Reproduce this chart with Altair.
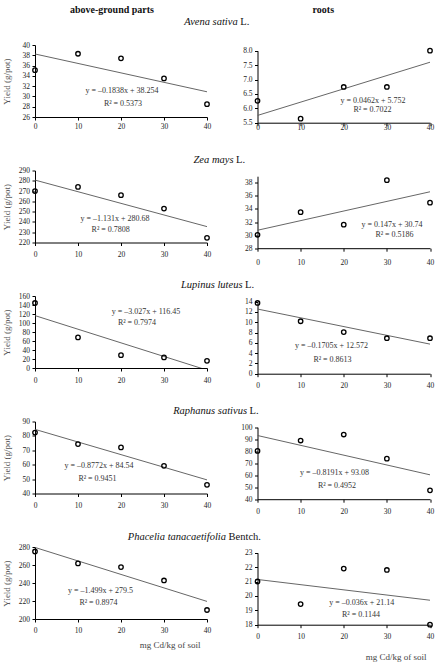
import altair as alt
import pandas as pd

# ---------------- data ----------------
doses = [0, 10, 20, 30, 40]

species = ["Avena sativa", "Zea mays", "Lupinus luteus", "Raphanus sativus", "Phacelia tanacaetifolia"]
authors = ["L.", "L.", "L.", "L.", "Bentch."]

above_vals = [
    [35.1, 38.3, 37.4, 33.5, 28.5],
    [270.0, 274.0, 266.0, 253.0, 224.5],
    [144.5, 68.0, 28.5, 23.5, 16.0],
    [82.3, 74.3, 72.0, 59.2, 46.0],
    [275.0, 261.8, 257.7, 242.8, 210.0],
]
root_vals = [
    [6.26, 5.64, 6.74, 6.74, 8.0],
    [30.05, 33.5, 31.6, 38.4, 34.95],
    [13.75, 10.2, 8.1, 6.9, 6.9],
    [80.2, 88.9, 93.9, 73.8, 47.4],
    [21.0, 19.43, 21.9, 21.8, 18.0],
]
above_slope = [-0.1838, -1.131, -3.027, -0.8772, -1.499]
above_int = [38.254, 280.68, 116.45, 84.54, 279.5]
root_slope = [0.0462, 0.147, -0.1705, -0.8191, -0.036]
root_int = [5.752, 30.74, 12.572, 93.08, 21.14]
above_eq = ["y = –0.1838x + 38.254", "y = –1.131x + 280.68", "y = –3.027x + 116.45",
            "y = –0.8772x + 84.54", "y = –1.499x + 279.5"]
root_eq = ["y = 0.0462x + 5.752", "y = 0.147x + 30.74", "y = –0.1705x + 12.572",
           "y = –0.8191x + 93.08", "y = –0.036x + 21.14"]
above_r2 = ["R² = 0.5373", "R² = 0.7808", "R² = 0.7974", "R² = 0.9451", "R² = 0.8974"]
root_r2 = ["R² = 0.7022", "R² = 0.5186", "R² = 0.8613", "R² = 0.4952", "R² = 0.1144"]
above_ticks = [[26, 28, 30, 32, 34, 36, 38, 40],
               [220, 230, 240, 250, 260, 270, 280, 290],
               [0, 20, 40, 60, 80, 100, 120, 140, 160],
               [40, 50, 60, 70, 80, 90],
               [200, 220, 240, 260, 280]]
root_ticks = [[5.5, 6.0, 6.5, 7.0, 7.5, 8.0],
              [28, 30, 32, 34, 36, 38],
              [0, 2, 4, 6, 8, 10, 12, 14],
              [40, 50, 60, 70, 80, 90, 100],
              [18, 19, 20, 21, 22, 23]]
above_domain = [[26, 40], [220, 290], [0, 160], [40, 90], [200, 280]]
root_domain = [[5.5, 8.0], [28, 39], [0, 14], [40, 100], [18, 23]]
col_headers = ["above-ground parts", "roots"]
ytitle = "Yield (g/pot)"
xtitle = "mg Cd/kg of soil"

# ---------------- styles / layout ----------------
FONT = "Liberation Serif"
LW, RW, H = 172, 172.5, 72
ROFF = 5.7            # right panels sit a little lower than the left ones
RH = H + ROFF
PITCH = 125.2
above_fmt = ["d", "d", "d", "d", "d"]
root_fmt = [".1f", "d", "d", "d", "d"]
left_xpad = [2.5, 5.2, 5.8, 5.2, 4.8]
right_xpad = [-2.5, 7.2, 5.2, 4.9, 5.2]
above_eq_xy = [(87, 46), (80, 48), (111, 16), (64, 44), (65.5, 44)]
above_r2_xy = [(88, 59), (75.7, 59.7), (102, 27.3), (62.5, 57.3), (63.5, 55.7)]
root_eq_xy = [(115.5, 50), (134.5, 48.5), (74, 44.6), (77, 45.4), (104.3, 50.2)]
root_r2_xy = [(115, 59), (137, 58.5), (75, 58), (79.5, 58.7), (103.5, 62.5)]
title_end = [(202.7, -23.3), (198.5, -10.5), (207.5, -10.7), (212, -10.4), (191, -10)]

ONE = pd.DataFrame({"k": [0]})


def txt(s, x, y, size=8, style="normal", weight="normal", align="center", color="#333"):
    return alt.Chart(ONE).mark_text(
        text=s, fontSize=size, font=FONT, fontStyle=style, fontWeight=weight,
        align=align, baseline="middle", color=color
    ).encode(x=alt.value(x), y=alt.value(y))


def panel(vals, m, b, ticks, dom, fmt, eq, r2, eq_xy, r2_xy, w, h, yrange, xpad, left, extras):
    xenc = alt.X("dose:Q", scale=alt.Scale(domain=[0, 40], nice=False, zero=False),
                 axis=alt.Axis(values=doses, title=None, labelPadding=xpad, format="d",
                               labelFlush=False, labelOverlap=False))
    if left:
        yaxis = alt.Axis(values=ticks, format=fmt, title=ytitle, titleFont=FONT,
                         titleFontSize=9, titleFontWeight="normal", titleColor="#555",
                         titlePadding=3.5, minExtent=20, maxExtent=20, labelPadding=2.5,
                         labelFlush=False, labelOverlap=False)
    else:
        yaxis = alt.Axis(values=ticks, format=fmt, title=None, labelPadding=2.5,
                         labelFlush=False, labelOverlap=False)
    yenc = alt.Y("val:Q", scale=alt.Scale(domain=dom, nice=False, zero=False, range=yrange),
                 axis=yaxis)

    pts = pd.DataFrame({"dose": doses, "val": vals})
    line = alt.Chart(pd.DataFrame({"dose": [0, 40]})).transform_calculate(
        val=f"{b} + ({m}) * datum.dose"
    ).mark_line(clip=True, color="#555", strokeWidth=0.9).encode(x=xenc, y=yenc)
    points = alt.Chart(pts).mark_point(
        shape="circle", filled=False, color="black", strokeWidth=1.3, size=20, opacity=1
    ).encode(x=xenc, y=yenc)
    layers = [line, points,
              txt(eq, eq_xy[0], eq_xy[1]),
              txt(r2, r2_xy[0], r2_xy[1])] + extras
    return alt.layer(*layers).properties(width=w, height=h)


panels = []
for i in range(5):
    ex_l = [
        txt(species[i], title_end[i][0], title_end[i][1], size=10.5, style="italic",
            align="right", color="#111"),
        txt(authors[i], title_end[i][0] + 2.6, title_end[i][1], size=10.5,
            align="left", color="#111"),
    ]
    ex_r = []
    if i == 0:
        ex_l.append(txt(col_headers[0], 77, -35.3, size=10, weight="bold", color="#111"))
        ex_l.append(alt.Chart(ONE).mark_point(opacity=0, size=1, filled=True)
                    .encode(x=alt.value(-34), y=alt.value(-44.3)))
        ex_r.append(txt(col_headers[1], 65.8, -40.7 + ROFF, size=10, weight="bold", color="#111"))
    if i == 4:
        ex_l.append(txt(xtitle, 135, 97.9, size=9, color="#444"))
        ex_r.append(txt(xtitle, 138.5, 104.2 + ROFF, size=9, color="#444"))
    panels.append(panel(above_vals[i], above_slope[i], above_int[i], above_ticks[i],
                        above_domain[i], above_fmt[i], above_eq[i], above_r2[i],
                        above_eq_xy[i], above_r2_xy[i], LW, H, [H, 0],
                        left_xpad[i], True, ex_l))
    r_eq = (root_eq_xy[i][0], root_eq_xy[i][1] + ROFF)
    r_r2 = (root_r2_xy[i][0], root_r2_xy[i][1] + ROFF)
    panels.append(panel(root_vals[i], root_slope[i], root_int[i], root_ticks[i],
                        root_domain[i], root_fmt[i], root_eq[i], root_r2[i],
                        r_eq, r_r2, RW, RH, [RH, ROFF],
                        right_xpad[i], False, ex_r))

chart = alt.concat(
    *panels, columns=2, bounds="flush",
    spacing=alt.RowColnumber(row=PITCH - RH, column=50.5)
).properties(
    padding=0, background="white"
).configure_view(stroke=None).configure_axis(
    grid=False, domainColor="black", domainWidth=1, tickColor="black", tickSize=3,
    tickWidth=1, labelFont=FONT, labelFontSize=7.5, labelColor="#222"
)

chart.save("out.html", embed_options={"renderer": "svg", "actions": False})
